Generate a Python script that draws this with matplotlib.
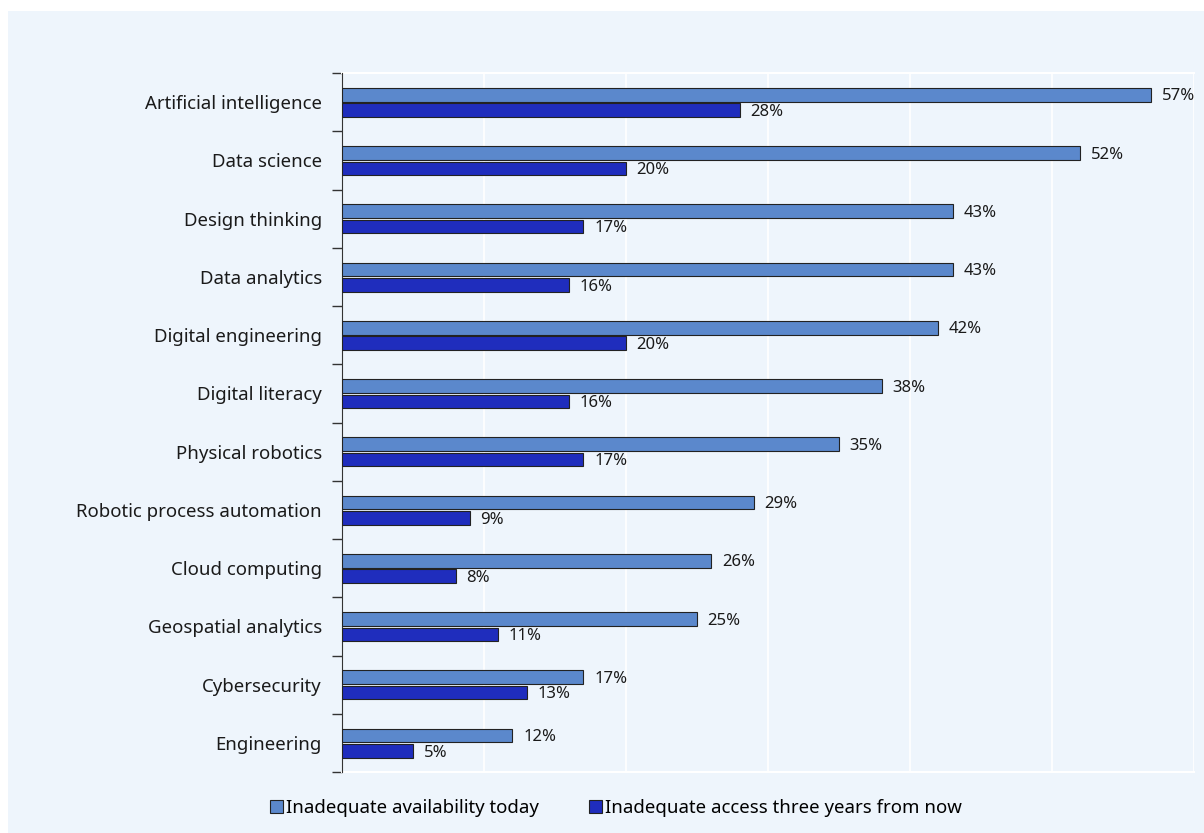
"""Bar chart: skills with inadequate availability today vs three years from now."""

import matplotlib.pyplot as plt
from matplotlib.patches import Rectangle
import numpy as np

plt.rcParams["font.family"] = ["Noto Sans", "DejaVu Sans"]

categories = [
    "Artificial intelligence",
    "Data science",
    "Design thinking",
    "Data analytics",
    "Digital engineering",
    "Digital literacy",
    "Physical robotics",
    "Robotic process automation",
    "Cloud computing",
    "Geospatial analytics",
    "Cybersecurity",
    "Engineering",
]
today = [57, 52, 43, 43, 42, 38, 35, 29, 26, 25, 17, 12]
three_years = [28, 20, 17, 16, 20, 16, 17, 9, 8, 11, 13, 5]
series_names = ["Inadequate availability today", "Inadequate access three years from now"]

BG = "#eef5fc"
LIGHT = "#5b88cc"
DARK = "#1f2dbd"

fig = plt.figure(figsize=(12.04, 8.33), dpi=100)
fig.patch.set_facecolor("white")
fig.patches.append(Rectangle((8 / 1204, 0), 1 - 8 / 1204, 1 - 11 / 833,
                             transform=fig.transFigure, facecolor=BG,
                             edgecolor="none", zorder=-10))

ax = fig.add_axes([342 / 1204, 1 - 772 / 833, (1194 - 342) / 1204, (772 - 73) / 833])
ax.set_facecolor(BG)

y = np.arange(len(categories))
h = 0.235
b1 = ax.barh(y - h / 2 - 0.01, today, height=h, color=LIGHT, edgecolor="#222222",
             linewidth=0.8, label=series_names[0], zorder=3)
b2 = ax.barh(y + h / 2 + 0.02, three_years, height=h, color=DARK, edgecolor="#222222",
             linewidth=0.8, label=series_names[1], zorder=3)

for bars, vals in ((b1, today), (b2, three_years)):
    for bar, v in zip(bars, vals):
        ax.text(bar.get_width() + 0.75, bar.get_y() + bar.get_height() / 2 + 0.03,
                f"{v}%", va="center", ha="left", fontsize=12, color="#1a1a1a")

ax.set_xlim(0, 60)
ax.set_ylim(len(categories) - 0.5, -0.5)
ax.set_xticks(np.arange(0, 61, 10))
ax.xaxis.grid(True, color="white", linewidth=1.2, zorder=0)
ax.set_axisbelow(True)
ax.tick_params(axis="x", length=0, labelbottom=False)

ax.set_yticks(y)
ax.set_yticklabels(categories, fontsize=13.4, color="#1a1a1a")
ax.set_yticks(np.arange(-0.5, len(categories)), minor=True)
ax.tick_params(axis="y", which="major", length=0, pad=14.5)
ax.tick_params(axis="y", which="minor", length=7, width=1, color="#333333")

for side in ("top", "right", "bottom"):
    ax.spines[side].set_visible(False)
ax.spines["left"].set_color("#333333")
ax.plot([0, 60], [-0.5, -0.5], color="white", linewidth=1.5, clip_on=False, zorder=1)
ax.plot([0, 60], [len(categories) - 0.5] * 2, color="white", linewidth=1.5,
        clip_on=False, zorder=1)

fig.legend(handles=[b1, b2], labels=series_names, loc="center",
           bbox_to_anchor=(616 / 1204, 1 - 808 / 833), ncol=2, frameon=False,
           fontsize=13.4, handlelength=0.7, handleheight=0.7, handletextpad=0.15,
           columnspacing=2.7)

fig.savefig("out.png", dpi=100, facecolor=fig.get_facecolor())
